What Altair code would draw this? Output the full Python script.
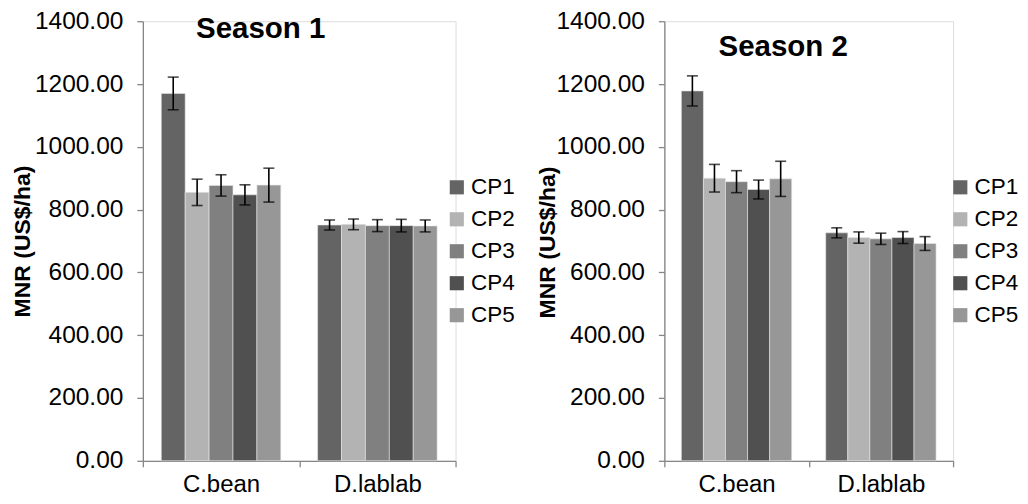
import altair as alt
import pandas as pd

crops = ["C.bean", "D.lablab"]
treatments = ["CP1", "CP2", "CP3", "CP4", "CP5"]
colors = ["#646464", "#b3b3b3", "#808080", "#505050", "#979797"]

s1_cbean = [1170, 855, 877, 847, 878]
s1_cbean_err = [52, 42, 34, 32, 54]
s1_dlab = [751, 753, 749, 749, 748]
s1_dlab_err = [16, 17, 19, 20, 19]

s2_cbean = [1178, 900, 889, 864, 898]
s2_cbean_err = [48, 44, 35, 30, 56]
s2_dlab = [726, 711, 707, 711, 692]
s2_dlab_err = [16, 18, 18, 19, 22]

yticks = [0, 200, 400, 600, 800, 1000, 1200, 1400]
FONT = "Liberation Sans"
AX = "#868686"
YTITLE = "MNR (US$/ha)"


def make_df(cb, cbe, dl, dle):
    rows = []
    for crop, vals, errs in ((crops[0], cb, cbe), (crops[1], dl, dle)):
        for t, v, e in zip(treatments, vals, errs):
            rows.append({"crop": crop, "cp": t, "mnr": v, "lo": v - e, "hi": v + e})
    return pd.DataFrame(rows)


def panel(df, width, title, tx, ty, ytx, ytly, lx, xlabpad):
    base = alt.Chart(df)
    xaxis = alt.Axis(title=None, labelAngle=0, tickBand="extent", labelFontSize=24,
                     labelFont=FONT, labelColor="black", domainColor=AX, tickColor=AX,
                     domainWidth=1.3, tickWidth=1.3, tickSize=6, labelPadding=xlabpad)
    x = alt.X("crop:N", sort=crops, axis=xaxis,
              scale=alt.Scale(paddingInner=0, paddingOuter=0))
    xo = alt.XOffset("cp:N", sort=treatments,
                     scale=alt.Scale(paddingInner=0, paddingOuter=0.77))
    yaxis = alt.Axis(values=yticks, format=".2f", labelFontSize=24.5, labelFont=FONT,
                     labelColor="black", domainColor=AX, tickColor=AX, domainWidth=1.3,
                     tickWidth=1.3, tickSize=6, labelPadding=14, grid=False,
                     titleFontSize=23, titleFont=FONT, titleFontWeight="bold",
                     titleColor="black", titleX=ytx, titleY=ytly, titleAngle=270,
                     titleAlign="center", titleBaseline="middle")
    yscale = alt.Scale(domain=[0, 1400], nice=False)
    bars = base.mark_bar(stroke="#e8e8e8", strokeWidth=0.6).encode(
        x=x, xOffset=xo,
        y=alt.Y("mnr:Q", title=YTITLE, scale=yscale, axis=yaxis),
        color=alt.Color("cp:N", sort=treatments,
                        scale=alt.Scale(domain=treatments, range=colors),
                        legend=alt.Legend(title=None, orient="none", legendX=lx, legendY=155,
                                          symbolType="square", symbolSize=200,
                                          symbolStrokeWidth=0, labelFontSize=22.5,
                                          labelFont=FONT, labelColor="black",
                                          rowPadding=9, padding=0, labelOffset=3)),
    )
    rules = base.mark_rule(color="black", strokeWidth=1.6).encode(
        x=alt.X("crop:N", sort=crops), xOffset=alt.XOffset("cp:N", sort=treatments),
        y=alt.Y("lo:Q", title=YTITLE, scale=yscale), y2="hi:Q")
    cap_lo = base.mark_tick(color="black", size=11, thickness=1.6, orient="horizontal").encode(
        x=alt.X("crop:N", sort=crops), xOffset=alt.XOffset("cp:N", sort=treatments),
        y=alt.Y("lo:Q", title=YTITLE, scale=yscale))
    cap_hi = base.mark_tick(color="black", size=11, thickness=1.6, orient="horizontal").encode(
        x=alt.X("crop:N", sort=crops), xOffset=alt.XOffset("cp:N", sort=treatments),
        y=alt.Y("hi:Q", title=YTITLE, scale=yscale))
    ttl = alt.Chart(pd.DataFrame({"t": [title]})).mark_text(
        font=FONT, fontSize=29.5, fontWeight="bold", color="black",
        align="center", baseline="middle").encode(
        text="t:N", x=alt.value(tx), y=alt.value(ty))
    return alt.layer(bars, rules, cap_lo, cap_hi, ttl).properties(width=width, height=440)


left = panel(make_df(s1_cbean, s1_cbean_err, s1_dlab, s1_dlab_err), 313, "Season 1",
             118, 8, -120, 220, 303, 6)
right = panel(make_df(s2_cbean, s2_cbean_err, s2_dlab, s2_dlab_err), 289, "Season 2",
              119, 26, -117, 221, 285, 6)

chart = alt.hconcat(left, right, spacing=19).resolve_scale(
    x="independent", y="independent", color="independent", xOffset="independent"
).resolve_legend(color="independent").properties(
    padding={"left": 3, "top": -1, "right": 0, "bottom": -1}
).configure_view(stroke=None).configure(font=FONT)

chart.save("out.html", embed_options={"renderer": "svg", "actions": False})
